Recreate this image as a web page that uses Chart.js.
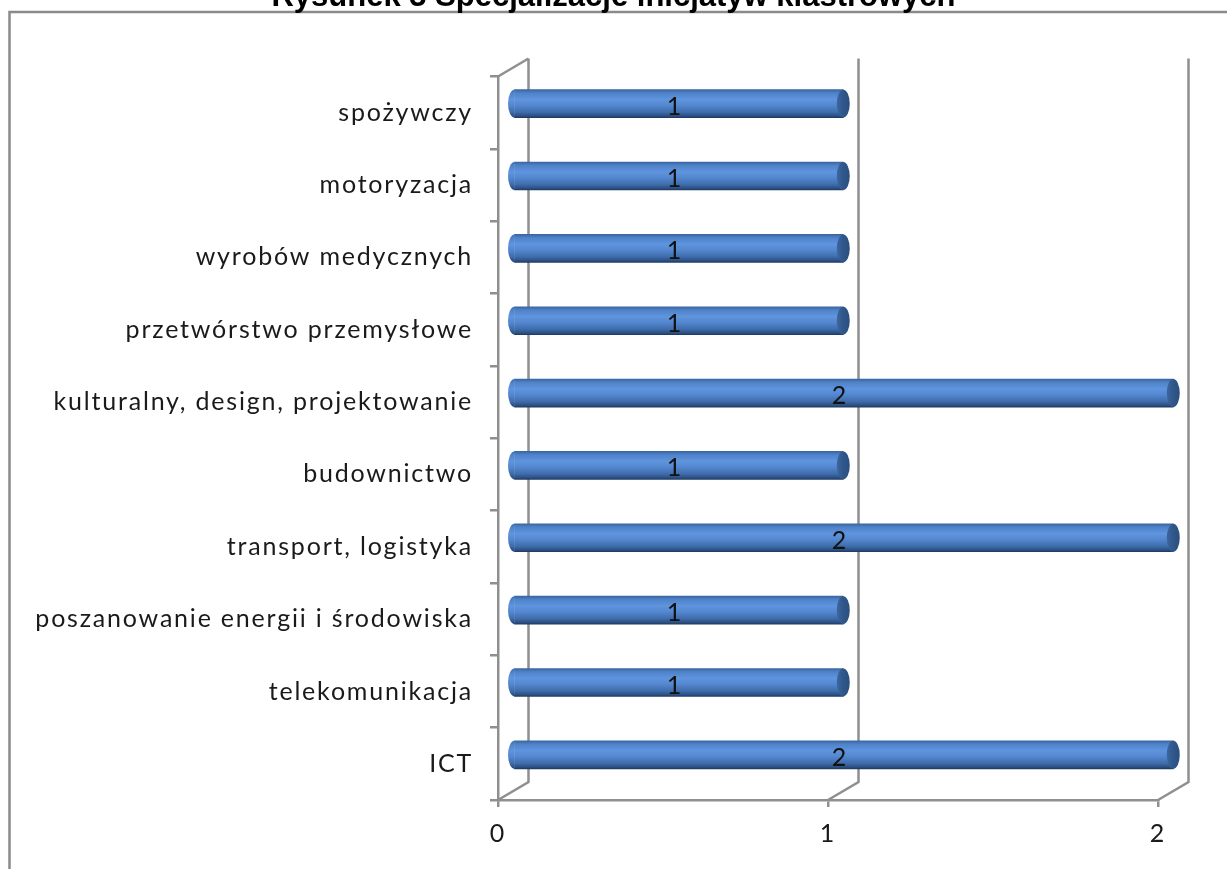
<!DOCTYPE html>
<html>
<head>
<meta charset="utf-8">
<script src="https://cdn.jsdelivr.net/npm/chart.js@4/dist/chart.umd.min.js"></script>
<style>
  html, body { margin: 0; padding: 0; background: #fff; overflow: hidden; }
  #wrap { width: 1227px; height: 869px; position: relative; }
</style>
</head>
<body>
<div id="wrap"><canvas id="c" width="1227" height="869"></canvas></div>
<script>
// Cluster initiatives by specialisation (top to bottom)
const categories = [
  'spożywczy',
  'motoryzacja',
  'wyrobów medycznych',
  'przetwórstwo przemysłowe',
  'kulturalny, design, projektowanie',
  'budownictwo',
  'transport, logistyka',
  'poszanowanie energii i środowiska',
  'telekomunikacja',
  'ICT'
];
const counts = [1, 1, 1, 1, 2, 1, 2, 1, 1, 2];
const xTickValues = [0, 1, 2];
const chartTitle = 'Rysunek 3 Specjalizacje inicjatyw klastrowych';

// 3D look: depth of the floor/back wall and bar thickness
const DEPTH_X = 30.5;
const DEPTH_Y = -18;
const BAR_T = 28;
const WALL = '#8f8f8f';
const LABEL_FONT = 'Lato, "Open Sans", sans-serif';
const LABEL_SPACING = '1.8px';

function cylinderGradient(ctx, yc) {
  const g = ctx.createLinearGradient(0, yc - BAR_T / 2, 0, yc + BAR_T / 2);
  g.addColorStop(0.00, '#3a66a2');
  g.addColorStop(0.12, '#4e82c9');
  g.addColorStop(0.35, '#5f95de');
  g.addColorStop(0.55, '#5488d1');
  g.addColorStop(0.80, '#3f6dac');
  g.addColorStop(0.94, '#2b4f82');
  g.addColorStop(1.00, '#1f3b64');
  return g;
}

// Outer frame and the partly visible title
const framePlugin = {
  id: 'frame',
  beforeDraw(chart) {
    const ctx = chart.ctx;
    ctx.save();
    ctx.fillStyle = '#fff';
    ctx.fillRect(0, 0, chart.width, chart.height);
    ctx.strokeStyle = '#8a8a8a';
    ctx.lineWidth = 2.5;
    ctx.beginPath();
    ctx.moveTo(chart.width, 12);
    ctx.lineTo(9.5, 12);
    ctx.lineTo(9.5, chart.height);
    ctx.stroke();
    ctx.fillStyle = '#000';
    ctx.font = 'bold 31px "Liberation Sans", Arial, sans-serif';
    ctx.textAlign = 'center';
    ctx.textBaseline = 'alphabetic';
    ctx.fillText(chartTitle, chart.width / 2, 6);
    ctx.restore();
    // axis labels are set with a little tracking
    ctx.letterSpacing = LABEL_SPACING;
  }
};

// Back wall, floor edges and the bars pushed to mid depth
const depthPlugin = {
  id: 'depth',
  beforeDatasetsDraw(chart) {
    const ctx = chart.ctx;
    ctx.letterSpacing = '0px';
    const xs = chart.scales.x;
    const area = chart.chartArea;
    ctx.save();
    ctx.strokeStyle = WALL;
    ctx.lineWidth = 2.5;
    ctx.lineCap = 'butt';
    ctx.beginPath();
    ctx.moveTo(area.left, area.top);
    ctx.lineTo(area.left + DEPTH_X, area.top + DEPTH_Y);
    xTickValues.forEach(v => {
      const px = xs.getPixelForValue(v);
      ctx.moveTo(px, area.bottom);
      ctx.lineTo(px + DEPTH_X, area.bottom + DEPTH_Y);
      ctx.lineTo(px + DEPTH_X, area.top + DEPTH_Y);
    });
    ctx.stroke();
    ctx.restore();
    ctx.save();
    ctx.translate(DEPTH_X / 2, DEPTH_Y / 2);
  },
  afterDatasetsDraw(chart) {
    const ctx = chart.ctx;
    const meta = chart.getDatasetMeta(0);
    meta.data.forEach((bar, i) => {
      const p = bar.getProps(['x', 'y', 'base', 'height'], true);
      const ry = p.height / 2;
      const rx = 6.5;
      // rounded start of the cylinder
      ctx.fillStyle = cylinderGradient(ctx, p.y);
      ctx.beginPath();
      ctx.ellipse(p.base, p.y, rx, ry, 0, Math.PI / 2, Math.PI * 1.5);
      ctx.closePath();
      ctx.fill();
      // end cap
      const cg = ctx.createLinearGradient(p.x - rx, 0, p.x + rx, 0);
      cg.addColorStop(0, '#3d67a0');
      cg.addColorStop(0.4, '#31598d');
      cg.addColorStop(1, '#2a4e7f');
      ctx.fillStyle = cg;
      ctx.beginPath();
      ctx.ellipse(p.x, p.y, rx, ry, 0, 0, Math.PI * 2);
      ctx.fill();
      // value label
      ctx.fillStyle = '#111';
      ctx.font = '25px ' + LABEL_FONT;
      ctx.textAlign = 'center';
      ctx.textBaseline = 'middle';
      ctx.fillText(String(counts[i]), (p.base + p.x) / 2 - 5, p.y + 3);
    });
    ctx.restore();
  }
};

new Chart(document.getElementById('c'), {
  type: 'bar',
  data: {
    labels: categories,
    datasets: [{
      data: counts,
      barThickness: BAR_T,
      borderWidth: 0,
      borderSkipped: false,
      clip: false,
      backgroundColor(c) {
        const ys = c.chart.scales.y;
        if (c.type !== 'data' || !ys) return '#4f81bd';
        const yc = ys.getPixelForValue(c.dataIndex);
        if (!isFinite(yc)) return '#4f81bd';
        return cylinderGradient(c.chart.ctx, yc);
      }
    }]
  },
  options: {
    indexAxis: 'y',
    responsive: false,
    animation: false,
    devicePixelRatio: 1,
    layout: { padding: { left: 0, right: 69, top: 76.5, bottom: 0 } },
    plugins: {
      legend: { display: false },
      tooltip: { enabled: false },
      title: { display: false }
    },
    scales: {
      y: {
        type: 'category',
        offset: true,
        afterFit(scale) { scale.width = 498; },
        grid: {
          offset: true,
          drawOnChartArea: false,
          drawTicks: true,
          tickLength: 8,
          color: WALL,
          lineWidth: 2.5
        },
        border: { display: true, color: WALL, width: 2.5 },
        ticks: {
          color: '#1a1a1a',
          padding: 17,
          font: { family: LABEL_FONT, size: 25 }
        }
      },
      x: {
        type: 'linear',
        min: 0,
        max: 2,
        afterFit(scale) { scale.height = 69; },
        afterBuildTicks(scale) { scale.ticks = xTickValues.map(v => ({ value: v })); },
        grid: {
          drawOnChartArea: false,
          drawTicks: true,
          tickLength: 7,
          color: WALL,
          lineWidth: 2.5
        },
        border: { display: true, color: WALL, width: 2.5 },
        ticks: {
          color: '#1a1a1a',
          padding: 12,
          font: { family: LABEL_FONT, size: 25 }
        }
      }
    }
  },
  plugins: [framePlugin, depthPlugin]
});
</script>
</body>
</html>
